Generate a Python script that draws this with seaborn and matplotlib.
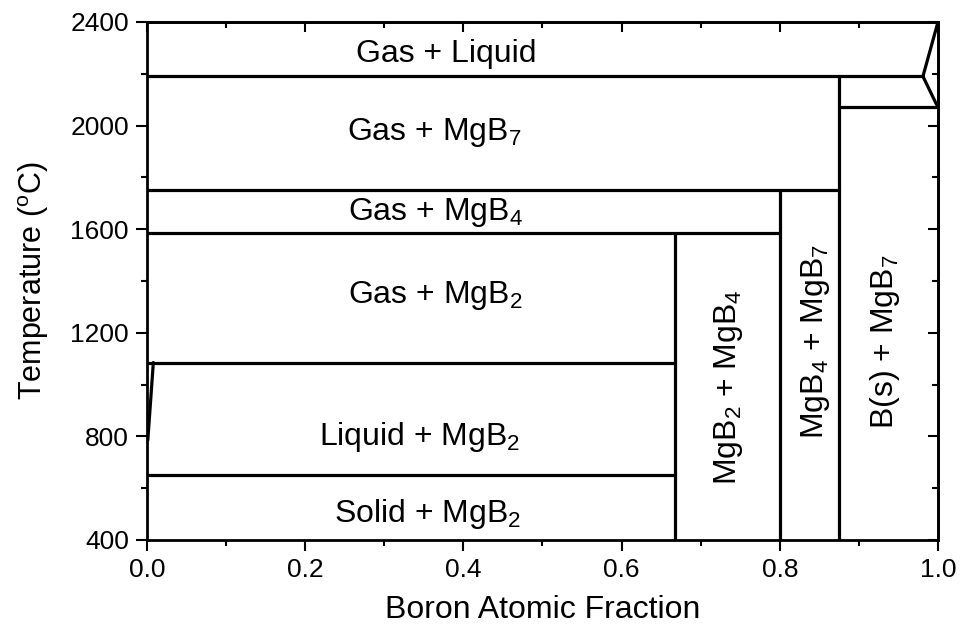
import pandas as pd
import matplotlib.pyplot as plt
import seaborn as sns
from matplotlib.ticker import MultipleLocator

# Phase boundary data (boron atomic fraction, temperature in C)
seg_names = ['gas_liq', 'v_upper', 'v_lower', 'b_mgb7', 'x_875', 'mgb7_top',
             'x_800', 'mgb4_top', 'x_667', 'liq_top', 'solidus', 'liquidus']
seg_x0 = [0.0, 0.981, 0.981, 0.875, 0.875, 0.0, 0.8, 0.0, 0.667, 0.0, 0.0, 0.001]
seg_x1 = [0.981, 1.0, 1.0, 1.0, 0.875, 0.875, 0.8, 0.8, 0.667, 0.667, 0.667, 0.008]
seg_t0 = [2190, 2190, 2190, 2070, 400, 1750, 400, 1585, 400, 1085, 650, 785]
seg_t1 = [2190, 2400, 2070, 2070, 2190, 1750, 1750, 1585, 1585, 1085, 650, 1085]

# Region labels
labels = ['Gas + Liquid', 'Gas + MgB$_7$', 'Gas + MgB$_4$', 'Gas + MgB$_2$',
          'Liquid + MgB$_2$', 'Solid + MgB$_2$',
          'MgB$_2$ + MgB$_4$', 'MgB$_4$ + MgB$_7$', 'B(s) + MgB$_7$']
label_x = [0.378, 0.363, 0.365, 0.365, 0.345, 0.355, 0.735, 0.845, 0.933]
label_t = [2276, 1975, 1666, 1342, 798, 500, 990, 1165, 1165]
label_rot = [0, 0, 0, 0, 0, 0, 90, 90, 90]

rows = []
for name, x0, x1, t0, t1 in zip(seg_names, seg_x0, seg_x1, seg_t0, seg_t1):
    rows.append({'seg': name, 'x': x0, 't': t0})
    rows.append({'seg': name, 'x': x1, 't': t1})
df = pd.DataFrame(rows)

sns.set_style('ticks')
plt.rcParams['font.family'] = ['Liberation Sans', 'DejaVu Sans']
plt.rcParams['mathtext.fontset'] = 'custom'
plt.rcParams['mathtext.rm'] = 'Liberation Sans'
plt.rcParams['mathtext.it'] = 'Liberation Sans'
for key in ['text.color', 'axes.labelcolor', 'xtick.color', 'ytick.color', 'axes.edgecolor']:
    plt.rcParams[key] = 'black'

fig = plt.figure(figsize=(9.64, 6.39), dpi=100)
ax = fig.add_axes([0.1525, 0.155, 0.8205, 0.8106])

sns.lineplot(data=df, x='x', y='t', units='seg', estimator=None, sort=False,
             color='black', linewidth=2.3, ax=ax, legend=False)

for txt, x, t, r in zip(labels, label_x, label_t, label_rot):
    ax.text(x, t, txt, ha='center', va='center', rotation=r, fontsize=23)

ax.set_xlim(0, 1.0)
ax.set_ylim(400, 2400)
ax.xaxis.set_major_locator(MultipleLocator(0.2))
ax.xaxis.set_minor_locator(MultipleLocator(0.1))
ax.yaxis.set_major_locator(MultipleLocator(400))
ax.yaxis.set_minor_locator(MultipleLocator(200))
ax.xaxis.set_major_formatter(plt.FormatStrFormatter('%.1f'))
ax.tick_params(which='both', direction='out', width=1.5, labelsize=19,
               top=False, right=False, pad=5)
ax.tick_params(which='major', length=8)
ax.tick_params(which='minor', length=4)

# mirrored inward ticks on top and right
axt = ax.secondary_xaxis('top')
axt.xaxis.set_major_locator(MultipleLocator(0.2))
axt.xaxis.set_minor_locator(MultipleLocator(0.1))
axt.tick_params(which='both', direction='in', width=1.5, labeltop=False)
axt.tick_params(which='major', length=7)
axt.tick_params(which='minor', length=4)
axr = ax.secondary_yaxis('right')
axr.yaxis.set_major_locator(MultipleLocator(400))
axr.yaxis.set_minor_locator(MultipleLocator(200))
axr.tick_params(which='both', direction='in', width=1.5, labelright=False)
axr.tick_params(which='major', length=7)
axr.tick_params(which='minor', length=4)

for sp in ax.spines.values():
    sp.set_linewidth(2)
axt.spines['top'].set_linewidth(2)
axr.spines['right'].set_linewidth(2)

ax.set_xlabel('Boron Atomic Fraction', fontsize=23, labelpad=9)
ax.set_ylabel('Temperature ($^{\\rm o}$C)', fontsize=22, labelpad=14)

fig.savefig('out.png', dpi=100)
